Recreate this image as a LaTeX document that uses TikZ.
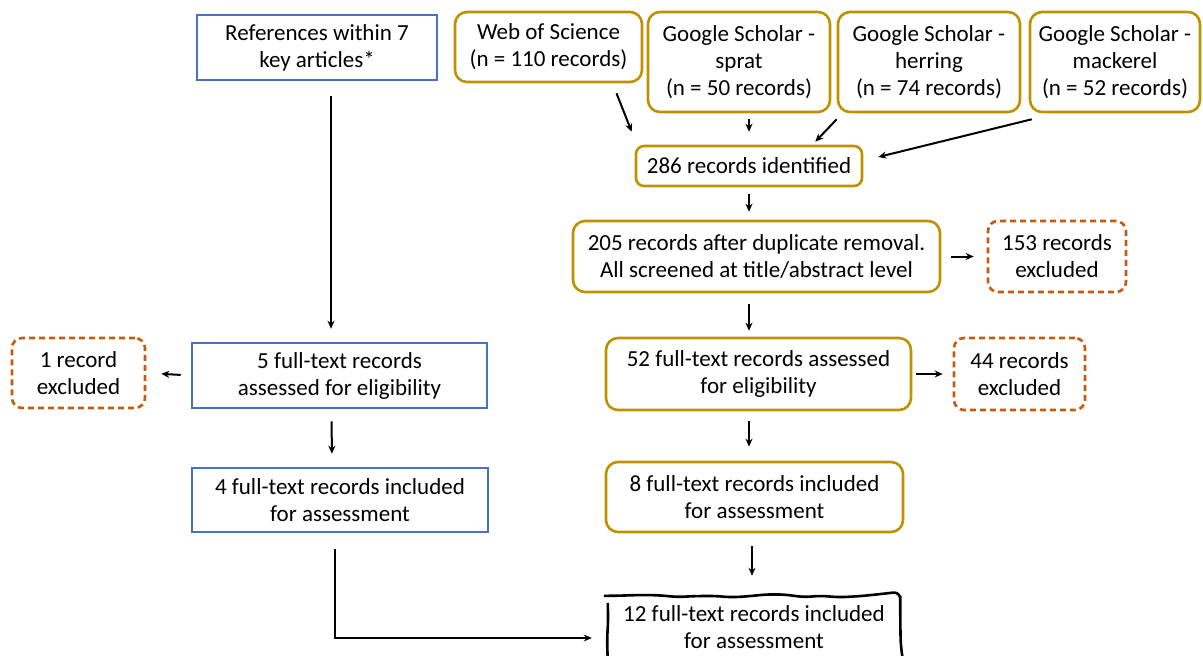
\documentclass[tikz,border=0pt]{standalone}
\usepackage{fontspec}
\setmainfont{Carlito}
\usetikzlibrary{arrows.meta,decorations.pathmorphing}
\definecolor{boxblue}{HTML}{4472C4}
\definecolor{boxgold}{HTML}{BF9000}
\definecolor{exorange}{HTML}{C55A11}

\begin{document}
\begin{tikzpicture}[x=1pt, y=-1pt,
  every node/.style={align=center, inner sep=0pt, font=\fontsize{23}{27}\selectfont},
  bluebox/.style={draw=boxblue, line width=2.6pt},
  goldbox/.style={draw=boxgold, line width=2.6pt, rounded corners=12pt},
  exbox/.style={draw=exorange, line width=2.6pt, rounded corners=10pt, dash pattern=on 6pt off 4pt},
  arr/.style={-{Stealth[length=8pt,width=7pt]}, line width=2pt}]
\useasboundingbox (0,0) rectangle (1203,656);
% left column
\node[bluebox, minimum width=240, minimum height=65] (refs) at (317,47.5) {References within 7\\key articles*};
\node[bluebox, minimum width=295, minimum height=65] (ft5) at (339.5,375.5) {5 full-text records\\assessed for eligibility};
\node[exbox, minimum width=133, minimum height=70] (ex1) at (78.5,373) {1 record\\excluded};
\node[bluebox, minimum width=296, minimum height=64] (inc4) at (340,500) {4 full-text records included\\for assessment};
% database searches
\node[goldbox, minimum width=187, minimum height=70] (wos) at (548.5,47) {Web of Science\\(n = 110 records)};
\node[goldbox, minimum width=182, minimum height=100] (sprat) at (739,62) {Google Scholar -\\sprat\\(n = 50 records)};
\node[goldbox, minimum width=182, minimum height=100] (herring) at (929,62) {Google Scholar -\\herring\\(n = 74 records)};
\node[goldbox, minimum width=170, minimum height=100] (mackerel) at (1115,62) {Google Scholar -\\mackerel\\(n = 52 records)};
% right column
\node[goldbox, rounded corners=8pt, minimum width=226, minimum height=40] (ident) at (749,166) {286 records identified};
\node[goldbox, minimum width=367, minimum height=71] (dup) at (756.5,256.5) {205 records after duplicate removal.\\All screened at title/abstract level};
\node[exbox, minimum width=138, minimum height=71] (ex153) at (1057,256.5) {153 records\\excluded};
\node[goldbox, minimum width=305, minimum height=72] (ft52) at (758.5,374) {52 full-text records assessed\\for eligibility};
\node[exbox, minimum width=131, minimum height=72] (ex44) at (1019.5,374) {44 records\\excluded};
\node[goldbox, minimum width=297, minimum height=70] (inc8) at (754.5,497) {8 full-text records included\\for assessment};
% final box, hand drawn outline (runs off the bottom edge)
\pgfmathsetseed{7}
\node[minimum width=292, minimum height=62] (final) at (754,627) {12 full-text records included\\for assessment};
\draw[line width=2.6pt, rounded corners=7pt, decorate, decoration={random steps, segment length=18pt, amplitude=1.6pt}]
  (final.north west) rectangle ([yshift=-12pt]final.south east);
% connectors
\draw[arr, shorten <=15pt, shorten >=13pt] ([xshift=14pt]refs.south) -- ([xshift=14pt]refs.south |- ft5.north);
\draw[arr, shorten <=10pt, shorten >=15pt] (ft5.west) -- (ex1.east);
\draw[arr, shorten <=12pt, shorten >=13pt] ([xshift=-8pt]ft5.south) -- ([xshift=-8pt]inc4.north);
\draw[arr, shorten <=16pt, shorten >=16pt] ([xshift=-5pt]inc4.south) |- ([yshift=-11pt]final.west);
\draw[arr] ([xshift=68pt,yshift=-10pt]wos.south) -- ([xshift=-3pt,yshift=13pt]ident.north west);
\draw[arr] ([xshift=10pt,yshift=-6pt]sprat.south) -- ([yshift=13pt]ident.north);
\draw[arr] ([yshift=-6pt]herring.south west) -- ([xshift=-48pt,yshift=3pt]ident.north east);
\draw[arr] ([xshift=3pt,yshift=-6pt]mackerel.south west) -- ([xshift=15pt,yshift=9pt]ident.east);
\draw[arr, shorten <=7pt, shorten >=8pt] (ident.south) -- (ident.south |- dup.north);
\draw[arr, shorten <=10pt, shorten >=13pt] (dup.east) -- (ex153.west);
\draw[arr, shorten <=11pt, shorten >=6pt] ([xshift=-7.5pt]dup.south) -- ([xshift=-9.5pt]ft52.north);
\draw[arr, shorten <=4pt, shorten >=10pt] (ft52.east) -- (ex44.west);
\draw[arr, shorten <=10pt, shorten >=14pt] ([xshift=-9.5pt]ft52.south) -- ([xshift=-5.5pt]inc8.north);
\draw[arr, shorten <=13pt, shorten >=20pt] ([xshift=-2.5pt]inc8.south) -- ([xshift=-2pt]final.north);
\end{tikzpicture}
\end{document}
